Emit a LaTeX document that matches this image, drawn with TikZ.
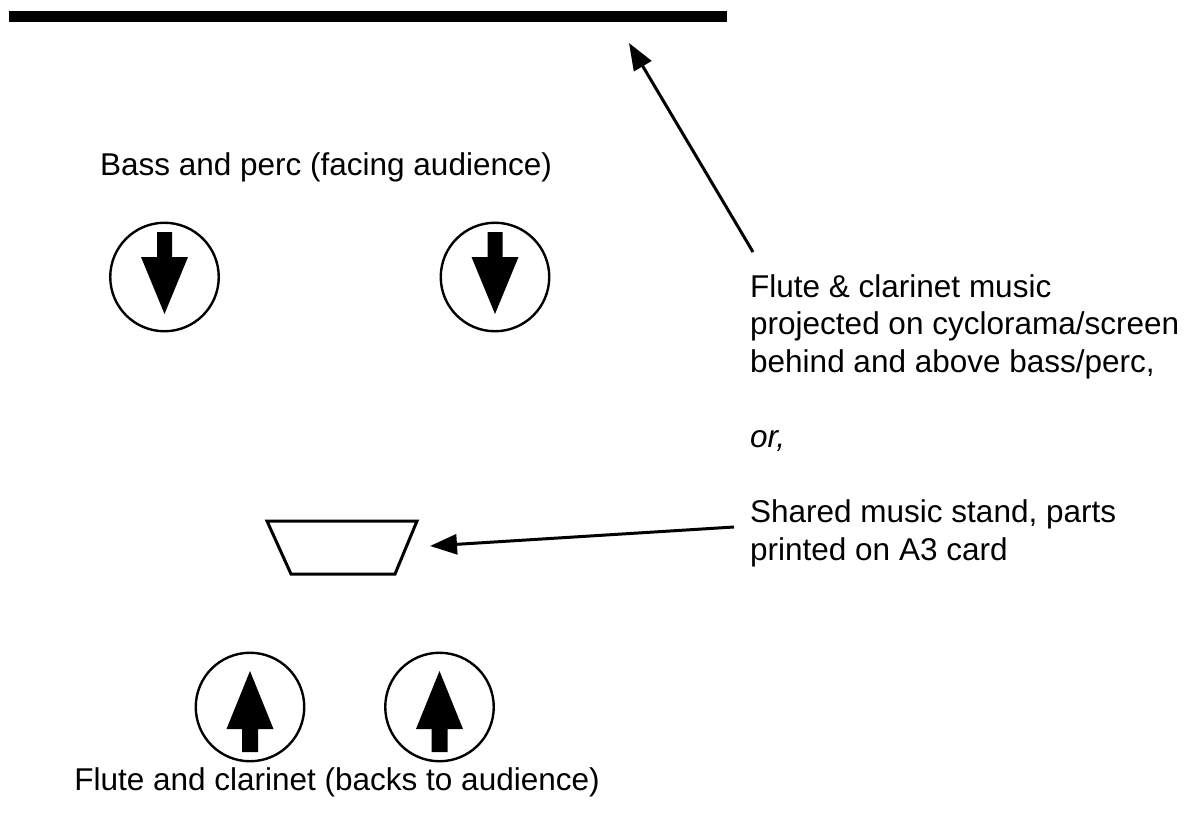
\documentclass[tikz,border=0pt]{standalone}
\usepackage{fontspec}
\setmainfont{Liberation Sans}
\usetikzlibrary{arrows.meta}
\begin{document}
\begin{tikzpicture}[x=1pt,y=-1pt,
  txt/.style={font=\fontsize{31.5}{37.6}\selectfont, inner sep=0pt},
  leftline/.style={txt, anchor=base west},
  player/.style={circle, draw=black, line width=2.4pt, minimum size=108.5pt, inner sep=0pt},
  pointer/.style={line width=3pt, -{Triangle[length=27pt,width=20pt]}},
  facedown/.pic={\fill (-7.5,-45) -- (7.5,-45) -- (7.5,-20) -- (23.5,-20) -- (0,37)
                   -- (-23.5,-20) -- (-7.5,-20) -- cycle;},
  faceup/.pic={\fill (-8,45) -- (8,45) -- (8,22) -- (23.5,22) -- (0,-36)
                   -- (-23.5,22) -- (-8,22) -- cycle;}]
  \useasboundingbox (0,0) rectangle (1192,823);

  % screen / cyclorama
  \node[fill=black, minimum width=718pt, minimum height=10.5pt, inner sep=0pt,
        anchor=north west] (screen) at (9,11) {};

  % bass and percussion, facing the audience
  \node[txt, anchor=base] (basslabel) at (326,175) {Bass and perc (facing audience)};
  \node[player] (bass) at (164.5,277) {};
  \node[player] (perc) at (495,277) {};
  \pic at (bass.center) {facedown};
  \pic at (perc.center) {facedown};

  % shared music stand
  \draw[line width=3pt, line join=miter] (267,521) -- (417,521) -- (395,574)
        -- (291,574) -- cycle;

  % flute and clarinet, backs to the audience
  \node[player] (flute) at (250,707) {};
  \node[player] (clarinet) at (439.5,707) {};
  \pic at (flute.center) {faceup};
  \pic at (clarinet.center) {faceup};
  \node[txt, anchor=base] (fclabel) at (337,790) {Flute and clarinet (backs to audience)};

  % notes on the right
  \node[leftline] (proj1) at (750,297) {Flute \& clarinet music};
  \node[leftline] (proj2) at (750,334.6) {projected on cyclorama/screen};
  \node[leftline] (proj3) at (750,372.2) {behind and above bass/perc,};
  \node[leftline, font=\fontsize{31.5}{37.6}\selectfont\itshape] (orline) at (750,447.4) {or,};
  \node[leftline] (stand1) at (750,522.6) {Shared music stand, parts};
  \node[leftline] (stand2) at (750,560.2) {printed on A3 card};

  % pointers
  \coordinate (projtail) at (753,252);
  \coordinate (screenaim) at (629,43);
  \coordinate (standtail) at (734,527);
  \coordinate (standaim) at (430,546);
  \draw[pointer] (projtail) -- (screenaim);
  \draw[pointer] (standtail) -- (standaim);
\end{tikzpicture}
\end{document}
